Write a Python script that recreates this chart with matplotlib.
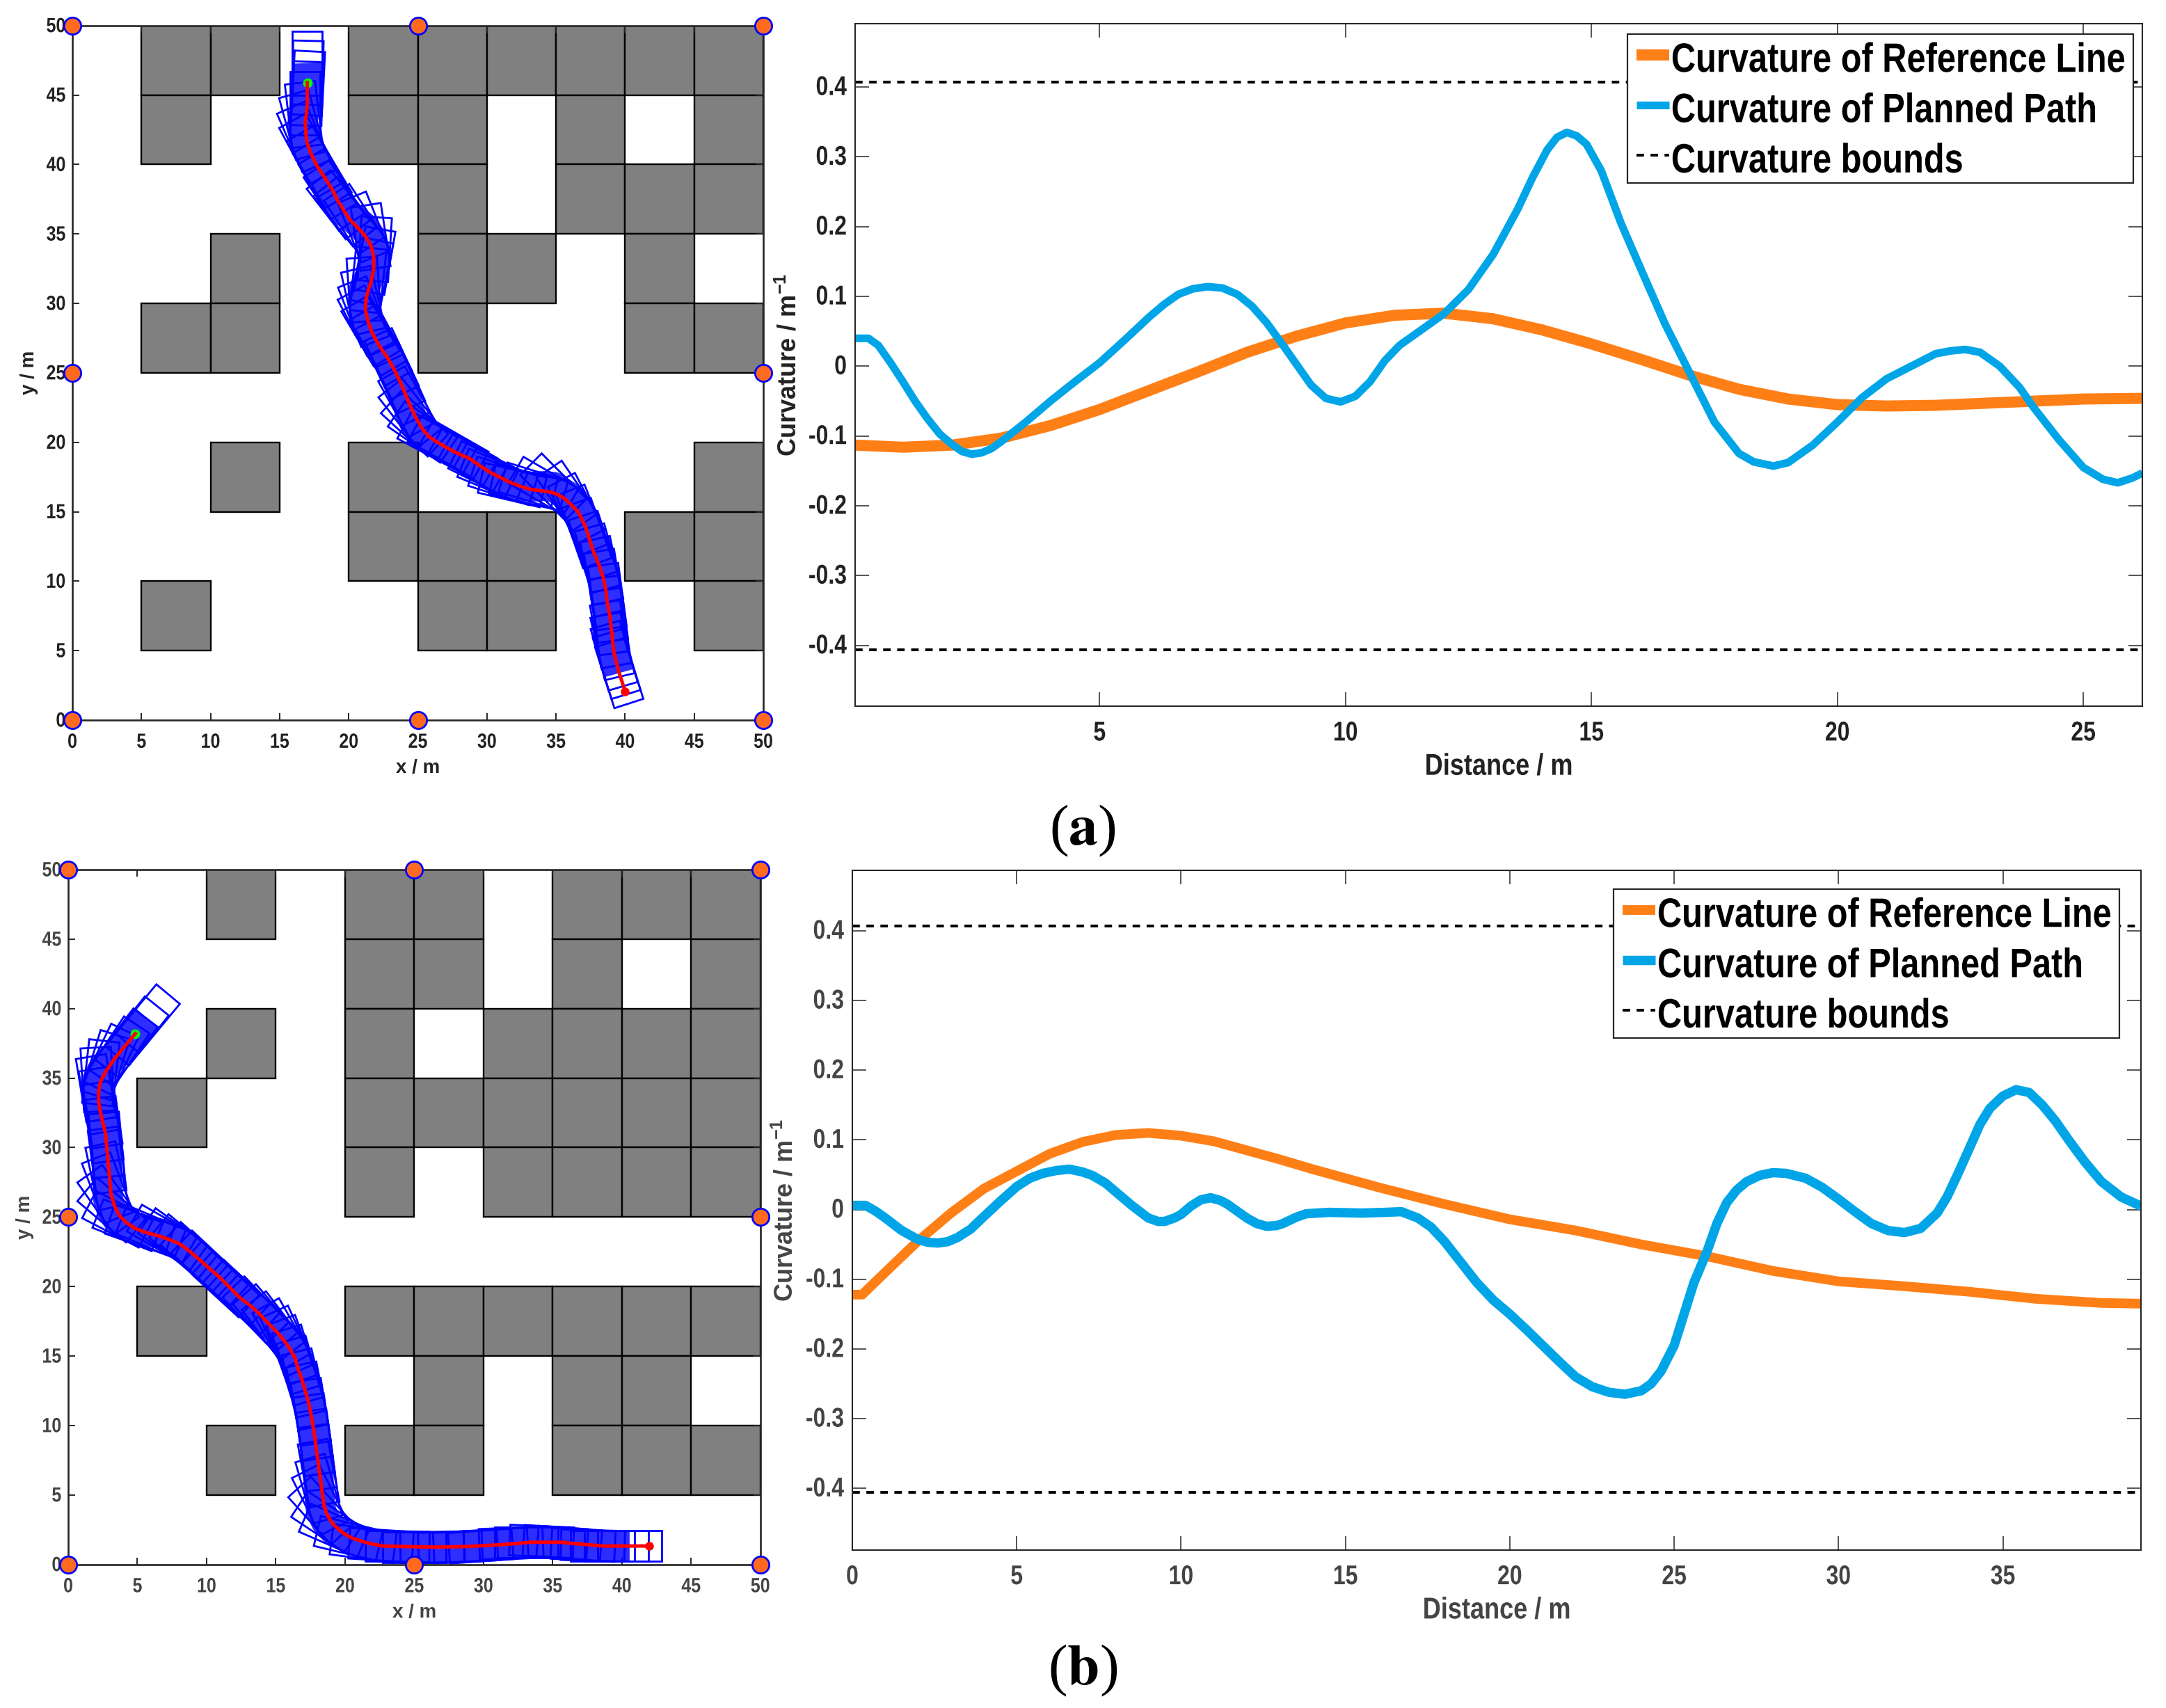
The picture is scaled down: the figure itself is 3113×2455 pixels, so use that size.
import numpy as np
import matplotlib
matplotlib.use("Agg")
import matplotlib.pyplot as plt
from matplotlib.patches import Rectangle
from matplotlib.patheffects import AbstractPathEffect
from matplotlib.transforms import Affine2D

W, H = 3113, 2455

plt.rcParams["font.family"] = ["Liberation Sans", "DejaVu Sans"]
plt.rcParams["font.weight"] = "bold"
plt.rcParams["axes.labelweight"] = "bold"
plt.rcParams["mathtext.fontset"] = "custom"
plt.rcParams["mathtext.rm"] = "Liberation Sans"
plt.rcParams["mathtext.bf"] = "Liberation Sans:bold"

# obstacle cells, lower-left corners by row (row start y -> column start x)
cells_a = {45: [5, 10, 20, 25, 30, 35, 40, 45],
           40: [5, 20, 25, 35, 45],
           35: [25, 35, 40, 45],
           30: [10, 25, 30, 40],
           25: [5, 10, 25, 40, 45],
           15: [10, 20, 45],
           10: [20, 25, 30, 40, 45],
           5: [5, 25, 30, 45]}
cells_b = {45: [10, 20, 25, 35, 40, 45],
           40: [20, 25, 35, 45],
           35: [10, 20, 30, 35, 40, 45],
           30: [5, 20, 25, 30, 35, 40, 45],
           25: [20, 30, 35, 40, 45],
           15: [5, 20, 25, 30, 35, 40, 45],
           10: [25, 35, 40],
           5: [10, 20, 25, 35, 40, 45]}

node_x = [0, 25, 50, 0, 50, 0, 25, 50]
node_y = [50, 50, 50, 25, 25, 0, 0, 0]

path_a_x = [40.0, 39.8, 39.6, 39.4, 39.2, 39.1, 39.0, 38.9, 38.7, 38.6, 38.4, 38.1, 37.7, 37.4, 37.1, 36.6,
            35.8, 35.3, 34.7, 34.0, 33.2, 32.5, 31.7, 31.0, 30.2, 29.5, 28.8, 28.0, 27.3, 26.5, 25.8, 25.3,
            24.9, 24.5, 24.15, 23.7, 23.2, 22.8, 22.3, 21.9, 21.6, 21.35, 21.2, 21.25, 21.4, 21.65, 21.8,
            21.8, 21.6, 21.15, 20.6, 20.1, 19.7, 19.2, 18.8, 18.3, 17.7, 17.3, 17.0, 16.9, 16.85, 16.95,
            17.0, 17.0, 17.0]
path_a_y = [2.05, 2.7, 3.3, 4.0, 4.8, 5.7, 6.6, 7.5, 8.5, 9.4, 10.3, 11.2, 12.15, 13.1, 14.0, 15.0,
            15.8, 16.15, 16.4, 16.5, 16.6, 16.8, 17.1, 17.45, 17.85, 18.3, 18.8, 19.15, 19.5, 19.95, 20.4, 21.0,
            21.7, 22.5, 23.35, 24.4, 25.4, 26.1, 26.8, 27.5, 28.1, 28.85, 29.6, 30.3, 30.9, 31.7, 32.5,
            33.4, 34.2, 34.9, 35.5, 36.0, 36.6, 37.4, 38.2, 39.0, 39.9, 40.7, 41.5, 42.2, 43.0, 43.7,
            44.45, 45.2, 45.9]

path_b_x = [41.96, 41.0, 40.0, 39.3, 38.6, 37.6, 36.6, 35.6, 34.5, 33.4, 32.3, 31.2, 30.1, 29.0, 27.7, 26.4,
            25.2, 24.0, 22.7, 21.6, 20.5, 19.8, 19.2, 18.8, 18.5, 18.35, 18.2, 18.05, 17.9, 17.75, 17.55,
            17.35, 17.1, 16.85, 16.6, 16.4, 16.1, 15.65, 15.15, 14.5, 13.9, 13.2, 12.4, 11.65, 10.9, 10.15,
            9.4, 8.7, 8.0, 7.25, 6.5, 5.6, 4.8, 4.2, 3.7, 3.35, 3.1, 3.0, 2.9, 2.8, 2.7, 2.45, 2.25, 2.2,
            2.2, 2.3, 2.5, 2.9, 3.35, 4.1, 4.85]
path_b_y = [1.33, 1.33, 1.33, 1.33, 1.33, 1.42, 1.5, 1.6, 1.6, 1.6, 1.5, 1.42, 1.36, 1.3, 1.27, 1.25,
            1.27, 1.3, 1.33, 1.55, 1.9, 2.3, 2.84, 3.4, 4.1, 5.2, 6.3, 7.4, 8.5, 9.6, 10.76,
            11.7, 12.6, 13.4, 14.1, 14.8, 15.4, 16.05, 16.65, 17.3, 17.95, 18.6, 19.2, 19.95, 20.7, 21.35,
            22.0, 22.6, 23.1, 23.4, 23.65, 23.9, 24.2, 24.6, 25.1, 25.8, 26.6, 27.7, 28.8, 29.9, 31.0, 32.0,
            32.9, 33.5, 34.0, 34.6, 35.1, 35.75, 36.4, 37.3, 38.2]

ref_a_s = [0.03, 1, 2, 3, 4, 5, 6, 7, 8, 9, 10, 11, 12, 13, 14, 15, 16, 17, 18, 19, 20, 21, 22, 23, 24, 25, 26.2]
ref_a_k = [-0.113, -0.116, -0.113, -0.103, -0.085, -0.062, -0.035, -0.008, 0.02, 0.043, 0.062, 0.073, 0.076,
           0.068, 0.052, 0.032, 0.01, -0.013, -0.033, -0.047, -0.055, -0.057, -0.056, -0.053, -0.05, -0.047, -0.046]
plan_a_s = [0.03, 0.3, 0.5, 0.75, 1, 1.25, 1.5, 1.75, 2, 2.2, 2.4, 2.6, 2.8, 3, 3.5, 4, 4.5, 5, 5.5, 6, 6.3, 6.6,
            6.9, 7.2, 7.5, 7.8, 8.1, 8.4, 8.7, 9, 9.3, 9.6, 9.9, 10.2, 10.5, 10.8, 11.1, 11.5, 12, 12.5, 13, 13.5,
            13.8, 14.1, 14.3, 14.5, 14.7, 14.9, 15.2, 15.6, 16, 16.5, 17, 17.5, 18, 18.3, 18.7, 19, 19.5, 20, 20.5,
            21, 21.5, 22, 22.3, 22.6, 22.9, 23.3, 23.7, 24, 24.5, 25, 25.4, 25.7, 26, 26.2]
plan_a_k = [0.04, 0.04, 0.03, 0.005, -0.022, -0.05, -0.075, -0.097, -0.112, -0.122, -0.126, -0.124, -0.118, -0.108,
            -0.08, -0.05, -0.022, 0.005, 0.037, 0.07, 0.088, 0.103, 0.111, 0.114, 0.112, 0.103, 0.086, 0.062, 0.033,
            0.003, -0.027, -0.046, -0.051, -0.043, -0.022, 0.008, 0.03, 0.05, 0.075, 0.11, 0.16, 0.225, 0.27, 0.31,
            0.328, 0.335, 0.33, 0.318, 0.28, 0.205, 0.14, 0.06, -0.01, -0.08, -0.125, -0.137, -0.143, -0.138, -0.113,
            -0.08, -0.045, -0.018, 0.0, 0.018, 0.022, 0.024, 0.02, 0.0, -0.03, -0.06, -0.105, -0.145, -0.162, -0.167,
            -0.16, -0.153]

ref_b_s = [0, 0.3, 1, 2, 3, 4, 5, 6, 7, 8, 9, 10, 11, 12, 13, 14, 15, 16, 17, 18, 19, 20, 22, 24, 26, 28, 30, 32,
           34, 36, 38, 39.2]
ref_b_k = [-0.122, -0.122, -0.09, -0.045, -0.005, 0.03, 0.055, 0.08, 0.097, 0.107, 0.11, 0.106, 0.098, 0.085, 0.072,
           0.058, 0.045, 0.032, 0.02, 0.008, -0.003, -0.014, -0.03, -0.05, -0.067, -0.088, -0.103, -0.11, -0.118,
           -0.128, -0.134, -0.135]
plan_b_s = [0, 0.4, 0.7, 1, 1.5, 2, 2.3, 2.6, 2.9, 3.2, 3.6, 4, 4.5, 5, 5.4, 5.8, 6.2, 6.6, 7, 7.3, 7.7, 8, 8.5, 9,
            9.3, 9.5, 9.8, 10, 10.3, 10.6, 10.9, 11.2, 11.4, 11.7, 12, 12.3, 12.6, 12.9, 13.1, 13.5, 13.8, 14.5,
            15.5, 16.2, 16.7, 17.2, 17.6, 18, 18.5, 19, 19.5, 20, 20.5, 21, 21.5, 22, 22.5, 23, 23.5, 24, 24.3, 24.6,
            25, 25.3, 25.6, 26, 26.3, 26.6, 26.9, 27.2, 27.6, 28, 28.4, 29, 29.5, 30, 30.5, 31, 31.5, 32, 32.5, 33,
            33.3, 33.6, 34, 34.3, 34.6, 35, 35.4, 35.8, 36.2, 36.6, 37, 37.5, 38, 38.6, 39.2]
plan_b_k = [0.006, 0.006, -0.002, -0.012, -0.03, -0.043, -0.047, -0.048, -0.046, -0.04, -0.028, -0.01, 0.012, 0.033,
            0.045, 0.052, 0.056, 0.058, 0.054, 0.049, 0.038, 0.026, 0.006, -0.012, -0.017, -0.017, -0.012, -0.007,
            0.005, 0.014, 0.017, 0.013, 0.008, -0.002, -0.012, -0.02, -0.024, -0.023, -0.02, -0.011, -0.006, -0.004,
            -0.005, -0.004, -0.003, -0.012, -0.025, -0.045, -0.075, -0.105, -0.13, -0.15, -0.172, -0.195, -0.218,
            -0.24, -0.254, -0.262, -0.265, -0.26, -0.25, -0.232, -0.195, -0.15, -0.105, -0.06, -0.02, 0.01, 0.028,
            0.04, 0.049, 0.053, 0.052, 0.045, 0.032, 0.015, -0.003, -0.02, -0.03, -0.033, -0.027, -0.005, 0.018,
            0.048, 0.09, 0.122, 0.145, 0.163, 0.172, 0.168, 0.15, 0.127, 0.1, 0.068, 0.04, 0.018, 0.005]

curv_ticks = [-0.4, -0.3, -0.2, -0.1, 0, 0.1, 0.2, 0.3, 0.4]
curv_labels = ["-0.4", "-0.3", "-0.2", "-0.1", "0", "0.1", "0.2", "0.3", "0.4"]
upper_bound = 0.407
lower_bound = -0.406

C_REF = "#ff7f17"
C_PLAN = "#00a5e8"
C_BLUE = "#0000ff"
C_AXIS = "#262626"


class Stretch(AbstractPathEffect):
    # reference text is tall and narrow, so stretch the glyphs about a local height y0
    def __init__(self, sy, y0=0):
        super().__init__()
        self.sy = sy
        self.y0 = y0

    def draw_path(self, renderer, gc, tpath, affine, rgbFace=None):
        local = Affine2D().translate(0, -self.y0).scale(1, self.sy).translate(0, self.y0)
        renderer.draw_path(gc, tpath, local + affine, rgbFace)


def axes_px(fig, left, top, right, bottom):
    return fig.add_axes([left / W, 1 - bottom / H, (right - left) / W, (bottom - top) / H])


def map_panel(ax, cells, xs, ys, color):
    for y0, cols in cells.items():
        for x0 in cols:
            ax.add_patch(Rectangle((x0, y0), 5, 5, fc="#808080", ec="black", lw=1.7, zorder=1))
    xs = np.array(xs)
    ys = np.array(ys)
    n = len(xs)
    mid_x, mid_y = [], []
    for i in range(n):
        a, b = max(i - 2, 0), min(i + 2, n - 1)
        heading = np.arctan2(ys[b] - ys[a], xs[b] - xs[a])
        mid_x.append(xs[i] + 1.4 * np.cos(heading))
        mid_y.append(ys[i] + 1.4 * np.sin(heading))
        ax.add_patch(Rectangle((xs[i] - 0.9, ys[i] - 1.1), 4.6, 2.2, angle=np.degrees(heading),
                               rotation_point=(xs[i], ys[i]), fc="none", ec=C_BLUE, lw=2.0, zorder=2))
    # the footprints overlap almost solid in the original
    ax.plot(mid_x, mid_y, color=C_BLUE, lw=31, alpha=0.82, solid_capstyle="butt", zorder=2)
    ax.plot(xs[-1], ys[-1], "o", color="#00ff00", ms=9, zorder=3)
    ax.plot(xs, ys, color="red", lw=3.6, zorder=4)
    ax.plot(xs[0], ys[0], "o", color="red", ms=8, zorder=4)
    ax.plot(node_x, node_y, "o", mfc="#ff6a1f", mec=C_BLUE, mew=2, ms=17.5, ls="none", clip_on=False, zorder=6)
    ax.set_xlim(0, 50)
    ax.set_ylim(0, 50)
    ax.set_xticks(range(0, 51, 5))
    ax.set_yticks(range(0, 51, 5))
    ax.tick_params(direction="in", length=7, width=1.4, top=True, right=True, labelcolor=color, color=C_AXIS,
                   labelsize=18)
    ax.tick_params(axis="x", pad=15)
    ax.tick_params(axis="y", pad=7)
    for s in ax.spines.values():
        s.set_linewidth(1.9)
        s.set_color(C_AXIS)
        s.set_zorder(5)
    for t in ax.get_xticklabels() + ax.get_yticklabels():
        t.set_path_effects([Stretch(1.18)])
    ax.set_xlabel("x / m", fontsize=20, color=color, labelpad=8)
    ax.set_ylabel("y / m", fontsize=20, color=color)
    ax.yaxis.set_label_coords(-0.049, 0.5)


def curve_panel(ax, s1, k1, s2, k2, xlim, ylim, xticks, color, ref_lw, plan_lw, leg_right, leg_top):
    ax.plot(s1, k1, color=C_REF, lw=ref_lw, label="Curvature of Reference Line", solid_capstyle="butt")
    ax.plot(s2, k2, color=C_PLAN, lw=plan_lw, label="Curvature of Planned Path", solid_capstyle="butt")
    ax.plot(xlim, [upper_bound, upper_bound], "k", ls=(0, (2.67, 2.33)), lw=2.9, label="Curvature bounds",
            dash_capstyle="butt")
    ax.plot(xlim, [lower_bound, lower_bound], "k", ls=(0, (2.67, 2.33)), lw=2.9, dash_capstyle="butt")
    ax.set_xlim(xlim)
    ax.set_ylim(ylim)
    ax.set_xticks(xticks)
    ax.set_yticks(curv_ticks)
    ax.set_yticklabels(curv_labels)
    ax.tick_params(direction="in", length=14.4, width=1.1, top=True, right=True, labelcolor=color, color=C_AXIS,
                   labelsize=23)
    ax.tick_params(axis="x", pad=19)
    ax.tick_params(axis="y", pad=8.6)
    for t in ax.get_xticklabels() + ax.get_yticklabels():
        t.set_path_effects([Stretch(1.22)])
    for s in ax.spines.values():
        s.set_linewidth(1.5)
        s.set_color(C_AXIS)
    ax.set_xlabel("Distance / m", fontsize=26, color=color, labelpad=11, path_effects=[Stretch(1.2)])
    ax.set_ylabel("Curvature / m$^{\\mathbf{-1}}$", fontsize=26, color=color)
    ax.yaxis.set_label_coords(-0.0416, 0.5)
    leg = ax.legend(loc="upper right", bbox_to_anchor=(leg_right, leg_top), prop={"size": 35.1, "weight": "bold"},
                    fancybox=False, framealpha=1, edgecolor=C_AXIS, handlelength=0.97, handletextpad=0.06,
                    labelspacing=0.56, borderpad=0.25, borderaxespad=0)
    leg.get_frame().set_linewidth(1.6)
    for t in leg.get_texts():
        t.set_path_effects([Stretch(1.21, 72)])


fig = plt.figure(figsize=(W / 100, H / 100), dpi=100, facecolor="white")

ax1 = axes_px(fig, 104, 36.7, 1097, 1035)
map_panel(ax1, cells_a, path_a_x, path_a_y, "#222222")
ax2 = axes_px(fig, 1229, 34.3, 3079, 1015)
curve_panel(ax2, ref_a_s, ref_a_k, plan_a_s, plan_a_k, [0.03, 26.2], [-0.487, 0.4905], [5, 10, 15, 20, 25],
            "#222222", 11.5, 8, 0.993, 0.9853)

ax3 = axes_px(fig, 98, 1250, 1092.7, 2248.7)
map_panel(ax3, cells_b, path_b_x, path_b_y, "#444444")
ax4 = axes_px(fig, 1225, 1251.3, 3077, 2227.7)
curve_panel(ax4, ref_b_s, ref_b_k, plan_b_s, plan_b_k, [0, 39.2], [-0.4883, 0.4865],
            [0, 5, 10, 15, 20, 25, 30, 35], "#444444", 10, 9.7, 0.9833, 0.973)

for label, y in (("a", 1194), ("b", 2401)):
    fig.text(1556 / W, 1 - y / H, "($\\mathbf{%s}$)" % label, fontsize=60, family="Liberation Serif",
             math_fontfamily="stix", ha="center", va="center", weight="normal", color="black")

fig.savefig("out.png", dpi=100)
